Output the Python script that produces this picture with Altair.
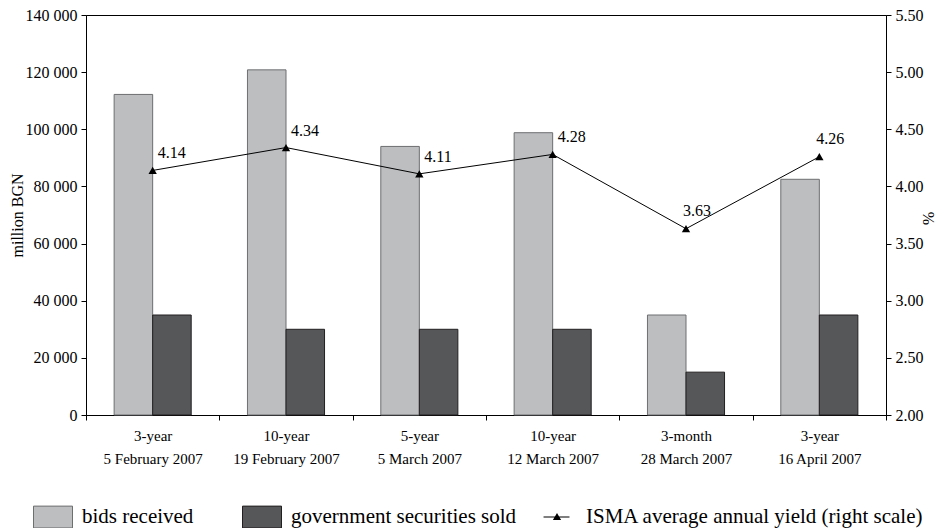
import altair as alt
import pandas as pd

tenors = ["3-year", "10-year", "5-year", "10-year", "3-month", "3-year"]
dates = ["5 February 2007", "19 February 2007", "5 March 2007",
         "12 March 2007", "28 March 2007", "16 April 2007"]
bids_received = [112200, 120800, 94000, 98800, 35000, 82500]
securities_sold = [35000, 30000, 30000, 30000, 15000, 35000]
isma_yield = [4.14, 4.34, 4.11, 4.28, 3.63, 4.26]
bar_series = ["bids received", "government securities sold"]
line_series = "ISMA average annual yield (right scale)"
left_ticks = [0, 20000, 40000, 60000, 80000, 100000, 120000, 140000]
right_ticks = [2.0, 2.5, 3.0, 3.5, 4.0, 4.5, 5.0, 5.5]

FONT = "Liberation Serif"
cats = [f"{t}|{d}" for t, d in zip(tenors, dates)]

bars_df = pd.DataFrame({
    "cat": cats * 2,
    "series": [bar_series[0]] * 6 + [bar_series[1]] * 6,
    "value": bids_received + securities_sold,
})
line_df = pd.DataFrame({
    "cat": cats,
    "yield": isma_yield,
    "series": [line_series] * 6,
    "idx": list(range(6)),
})

RECT_PATH = "M-1,-0.56H1V0.56H-1Z"
LINE_PATH = "M-0.69,-0.03H0.64V0.03H-0.69Z M0,-0.21L0.21,0.15L-0.21,0.15Z"

x_enc = alt.X(
    "cat:N", sort=cats,
    scale=alt.Scale(paddingInner=0, paddingOuter=0),
    axis=alt.Axis(title=None, labelExpr="split(datum.label, '|')", labelAngle=0,
                  tickBand="extent", labelLineHeight=23, labelPadding=8,
                  labelFontSize=15, labelFont=FONT),
)

bars = alt.Chart(bars_df).mark_bar(strokeWidth=1).encode(
    x=x_enc,
    xOffset=alt.XOffset("series:N", sort=bar_series,
                        scale=alt.Scale(paddingOuter=0.73, paddingInner=0)),
    y=alt.Y("value:Q",
            scale=alt.Scale(domain=[0, 140000], nice=False),
            axis=alt.Axis(values=left_ticks, title="million BGN",
                          labelExpr="replace(format(datum.value, ','), ',', ' ')",
                          labelFont=FONT, labelFontSize=16,
                          titleX=-69, titleY=200, titleAngle=270, titleBaseline="middle",
                          titleFontSize=16, titleFontWeight="normal", titleFont=FONT)),
    color=alt.Color("series:N",
                    scale=alt.Scale(domain=bar_series, range=["#bcbec0", "#555759"]),
                    legend=alt.Legend(
                        orient="none", legendX=-53, legendY=482, direction="horizontal",
                        columns=2, title=None, symbolType=RECT_PATH, symbolSize=1521,
                        labelOffset=9, columnPadding=46, padding=0, labelLimit=600,
                        labelFont=FONT, labelFontSize=21, labelColor="black",
                        symbolStrokeColor="#6d6e70", symbolStrokeWidth=1,
                    )),
    stroke=alt.Stroke("series:N",
                      scale=alt.Scale(domain=bar_series, range=["#6d6e70", "#231f20"]),
                      legend=None),
)

y_right = alt.Y("yield:Q", scale=alt.Scale(domain=[2.0, 5.5], nice=False),
                axis=alt.Axis(orient="right", values=right_ticks, format=".2f",
                              labelFont=FONT, labelFontSize=16,
                              title="%", titleX=41, titleY=203, titleAngle=90,
                              titleBaseline="middle",
                              titleFontSize=16, titleFontWeight="normal", titleFont=FONT))

line = alt.Chart(line_df).mark_line(color="black", strokeWidth=1).encode(
    x=x_enc, y=y_right)

points = alt.Chart(line_df).mark_point(filled=True, color="black", size=70, shape="triangle-up").encode(
    x=x_enc, y=y_right,
    opacity=alt.Opacity("series:N",
                        scale=alt.Scale(domain=[line_series], range=[1]),
                        legend=alt.Legend(
                            orient="none", legendX=451, legendY=482, title=None,
                            symbolType=LINE_PATH, symbolSize=1521, labelOffset=9, padding=0,
                            symbolFillColor="black", symbolStrokeColor="black",
                            symbolStrokeWidth=0.5, labelLimit=600,
                            labelFont=FONT, labelFontSize=21, labelColor="black",
                        )),
)

labels_a = alt.Chart(line_df).transform_filter("datum.idx < 4").mark_text(
    align="left", baseline="alphabetic", dx=5, dy=-12, fontSize=16, font=FONT, color="black"
).encode(x=x_enc, y=y_right, text=alt.Text("yield:Q", format=".2f"))

labels_b = alt.Chart(line_df).transform_filter("datum.idx >= 4").mark_text(
    align="left", baseline="alphabetic", dx=-3, dy=-13, fontSize=16, font=FONT, color="black"
).encode(x=x_enc, y=y_right, text=alt.Text("yield:Q", format=".2f"))

right_layer = alt.layer(line, points, labels_a, labels_b)

chart = alt.layer(bars, right_layer).resolve_scale(
    y="independent", color="independent",
    stroke="independent", opacity="independent"
).properties(
    width=800, height=400,
    autosize=alt.AutoSizeParams(type="none"),
    padding={"left": 78, "top": 7, "right": 50, "bottom": 113},
).configure(font=FONT).configure_view(
    stroke="black", strokeWidth=1
).configure_axis(
    grid=False, domainColor="black", tickColor="black", tickSize=5,
    labelColor="black", labelFont=FONT, titleColor="black",
    labelPadding=4,
).configure_text(font=FONT).configure_legend(labelFont=FONT)

chart.save("out.html", embed_options={"renderer": "svg", "actions": False})
